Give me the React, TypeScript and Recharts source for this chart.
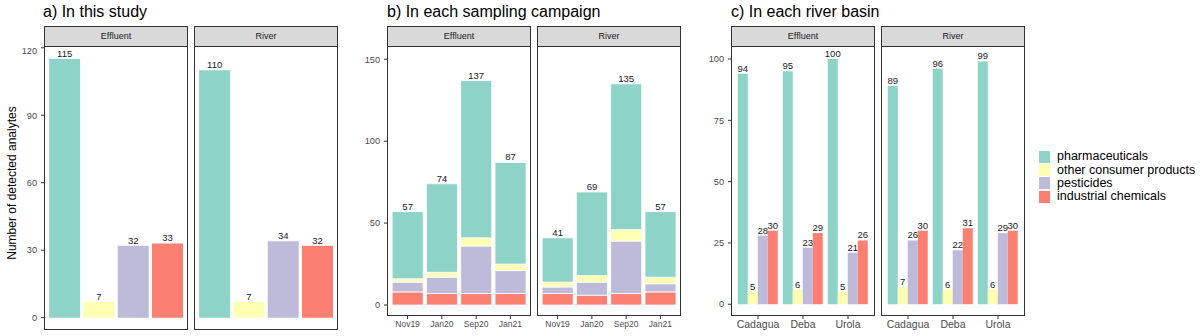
import React from "react";
import { BarChart, Bar, XAxis, YAxis, LabelList, Cell } from "recharts";

const groups = ["pharmaceuticals", "other consumer products", "pesticides", "industrial chemicals"];
const colors = ["#8DD3C7", "#FFFFB3", "#BEBADA", "#FB8072"];
const keys = ["pharma", "other", "pest", "ind"];

// a) In this study
const studyEffluent = [115, 7, 32, 33];
const studyRiver = [110, 7, 34, 32];

// b) In each sampling campaign
const campaigns = ["Nov19", "Jan20", "Sep20", "Jan21"];
const campEffPharma = [41, 54, 96, 62];
const campEffOther = [2, 3, 5, 4];
const campEffPest = [6, 10, 29, 14];
const campEffInd = [8, 7, 7, 7];
const campEffTotal = [57, 74, 137, 87];
const campRivPharma = [27, 51, 89, 40];
const campRivOther = [3, 4, 7, 4];
const campRivPest = [4, 8, 32, 5];
const campRivInd = [7, 6, 7, 8];
const campRivTotal = [41, 69, 135, 57];

// c) In each river basin
const basins = ["Cadagua", "Deba", "Urola"];
const basEffPharma = [94, 95, 100];
const basEffOther = [5, 6, 5];
const basEffPest = [28, 23, 21];
const basEffInd = [30, 29, 26];
const basRivPharma = [89, 96, 99];
const basRivOther = [7, 6, 6];
const basRivPest = [26, 22, 29];
const basRivInd = [30, 31, 30];

const studyData = (vals) => groups.map((g, i) => ({ group: g, value: vals[i] }));
const multiData = (cats, pharma, other, pest, ind, total?) =>
    cats.map((c, i) => ({
        cat: c,
        pharma: pharma[i],
        other: other[i],
        pest: pest[i],
        ind: ind[i],
        total: total ? total[i] : undefined
    }));

const FONT = '"Liberation Sans", Arial, Helvetica, sans-serif';
const PANEL_W = 144;
const TOP = 46;

const labelStyle = { fontSize: 9.5, fill: "#1a1a1a", fontFamily: FONT };

const Facet = ({ left, plotH, data, n, domain, ticks, showY, showX, xFont, strip, children }) => {
    const yW = showY ? 45 : 0;
    const xH = showX ? 22 : 0;
    const unit = PANEL_W / (n + 0.2);
    const pad = 0.1 * unit;
    return (
        <>
            <div style={{ position: "absolute", left: left - yW, top: TOP }}>
                <BarChart
                    width={yW + PANEL_W}
                    height={plotH + xH}
                    data={data}
                    margin={{ top: 0, right: 0, bottom: 0, left: 0 }}
                    barCategoryGap="5%"
                    barGap={0}
                >
                    <XAxis
                        dataKey={data[0].cat !== undefined ? "cat" : "group"}
                        hide={!showX}
                        height={xH}
                        padding={{ left: pad, right: pad }}
                        axisLine={false}
                        tickLine={{ stroke: "#333" }}
                        tickSize={3}
                        tickMargin={2}
                        interval={0}
                        tick={{ fontSize: xFont, fill: "#4d4d4d", fontFamily: FONT }}
                    />
                    <YAxis
                        hide={!showY}
                        width={yW}
                        type="number"
                        domain={domain}
                        allowDataOverflow
                        ticks={ticks}
                        axisLine={false}
                        tickLine={{ stroke: "#333" }}
                        tickSize={3}
                        tickMargin={4}
                        tick={{ fontSize: 9.2, fill: "#4d4d4d", fontFamily: FONT }}
                    />
                    {children}
                </BarChart>
            </div>
            <div
                style={{
                    position: "absolute",
                    left,
                    top: TOP,
                    width: PANEL_W,
                    height: plotH,
                    border: "1px solid #333",
                    boxSizing: "border-box",
                    pointerEvents: "none"
                }}
            />
            <div
                style={{
                    position: "absolute",
                    left,
                    top: 26,
                    width: PANEL_W,
                    height: 21,
                    border: "1px solid #333",
                    boxSizing: "border-box",
                    background: "#d9d9d9",
                    fontSize: 9,
                    lineHeight: "19px",
                    textAlign: "center",
                    color: "#1a1a1a"
                }}
            >
                {strip}
            </div>
        </>
    );
};

const studyBar = () => (
    <Bar dataKey="value" isAnimationActive={false}>
        {groups.map((g, i) => (
            <Cell key={g} fill={colors[i]} />
        ))}
        <LabelList dataKey="value" position="top" offset={2} style={labelStyle} />
    </Bar>
);

// stacked: industrial at the bottom, pharmaceuticals on top
const stackBars = () =>
    [3, 2, 1, 0].map((i) => (
        <Bar
            key={keys[i]}
            dataKey={keys[i]}
            stackId="s"
            fill={colors[i]}
            stroke="#fff"
            strokeWidth={0.8}
            isAnimationActive={false}
        >
            {i === 0 && <LabelList dataKey="total" position="top" offset={2} style={labelStyle} />}
        </Bar>
    ));

const dodgeBars = () =>
    keys.map((k, i) => (
        <Bar key={k} dataKey={k} fill={colors[i]} isAnimationActive={false}>
            <LabelList dataKey={k} position="top" offset={2} style={labelStyle} />
        </Bar>
    ));

const Title = ({ left, text }) => (
    <div style={{ position: "absolute", left, top: 4, fontSize: 16, lineHeight: "16px", color: "#000", whiteSpace: "nowrap" }}>
        {text}
    </div>
);

export default function App() {
    const aDomain = [-5.5, 120.8];
    const aTicks = [0, 30, 60, 90, 120];
    const bDomain = [-6.7, 158.1];
    const bTicks = [0, 50, 100, 150];
    const cDomain = [-4.8, 105.3];
    const cTicks = [0, 25, 50, 75, 100];

    return (
        <div
            style={{
                position: "absolute",
                left: 0,
                top: 0,
                width: 1200,
                height: 336,
                background: "#fff",
                fontFamily: FONT,
                overflow: "hidden"
            }}
        >
            <Title left={43} text="a) In this study" />
            <Title left={387} text="b) In each sampling campaign" />
            <Title left={731} text="c) In each river basin" />

            <div
                style={{
                    position: "absolute",
                    left: 12 - 142,
                    top: 183 - 7,
                    width: 284,
                    height: 14,
                    lineHeight: "14px",
                    fontSize: 12,
                    textAlign: "center",
                    color: "#000",
                    transform: "rotate(-90deg)"
                }}
            >
                Number of detected analytes
            </div>

            <Facet left={44} plotH={284} data={studyData(studyEffluent)} n={4} domain={aDomain} ticks={aTicks} showY showX={false} xFont={9} strip="Effluent">
                {studyBar()}
            </Facet>
            <Facet left={194} plotH={284} data={studyData(studyRiver)} n={4} domain={aDomain} ticks={aTicks} showY={false} showX={false} xFont={9} strip="River">
                {studyBar()}
            </Facet>

            <Facet
                left={387}
                plotH={270}
                data={multiData(campaigns, campEffPharma, campEffOther, campEffPest, campEffInd, campEffTotal)}
                n={4}
                domain={bDomain}
                ticks={bTicks}
                showY
                showX
                xFont={8.5}
                strip="Effluent"
            >
                {stackBars()}
            </Facet>
            <Facet
                left={537}
                plotH={270}
                data={multiData(campaigns, campRivPharma, campRivOther, campRivPest, campRivInd, campRivTotal)}
                n={4}
                domain={bDomain}
                ticks={bTicks}
                showY={false}
                showX
                xFont={8.5}
                strip="River"
            >
                {stackBars()}
            </Facet>

            <Facet
                left={731}
                plotH={270}
                data={multiData(basins, basEffPharma, basEffOther, basEffPest, basEffInd)}
                n={3}
                domain={cDomain}
                ticks={cTicks}
                showY
                showX
                xFont={10.5}
                strip="Effluent"
            >
                {dodgeBars()}
            </Facet>
            <Facet
                left={881}
                plotH={270}
                data={multiData(basins, basRivPharma, basRivOther, basRivPest, basRivInd)}
                n={3}
                domain={cDomain}
                ticks={cTicks}
                showY={false}
                showX
                xFont={10.5}
                strip="River"
            >
                {dodgeBars()}
            </Facet>

            {groups.map((g, i) => (
                <div key={g} style={{ position: "absolute", left: 1039, top: 150.3 + i * 13.3, height: 13.3, width: 160 }}>
                    <div style={{ position: "absolute", left: 0, top: 0.6, width: 11, height: 12, background: colors[i] }} />
                    <div style={{ position: "absolute", left: 18, top: 0, fontSize: 12.5, lineHeight: "13.3px", color: "#000", whiteSpace: "nowrap" }}>
                        {g}
                    </div>
                </div>
            ))}
        </div>
    );
}
